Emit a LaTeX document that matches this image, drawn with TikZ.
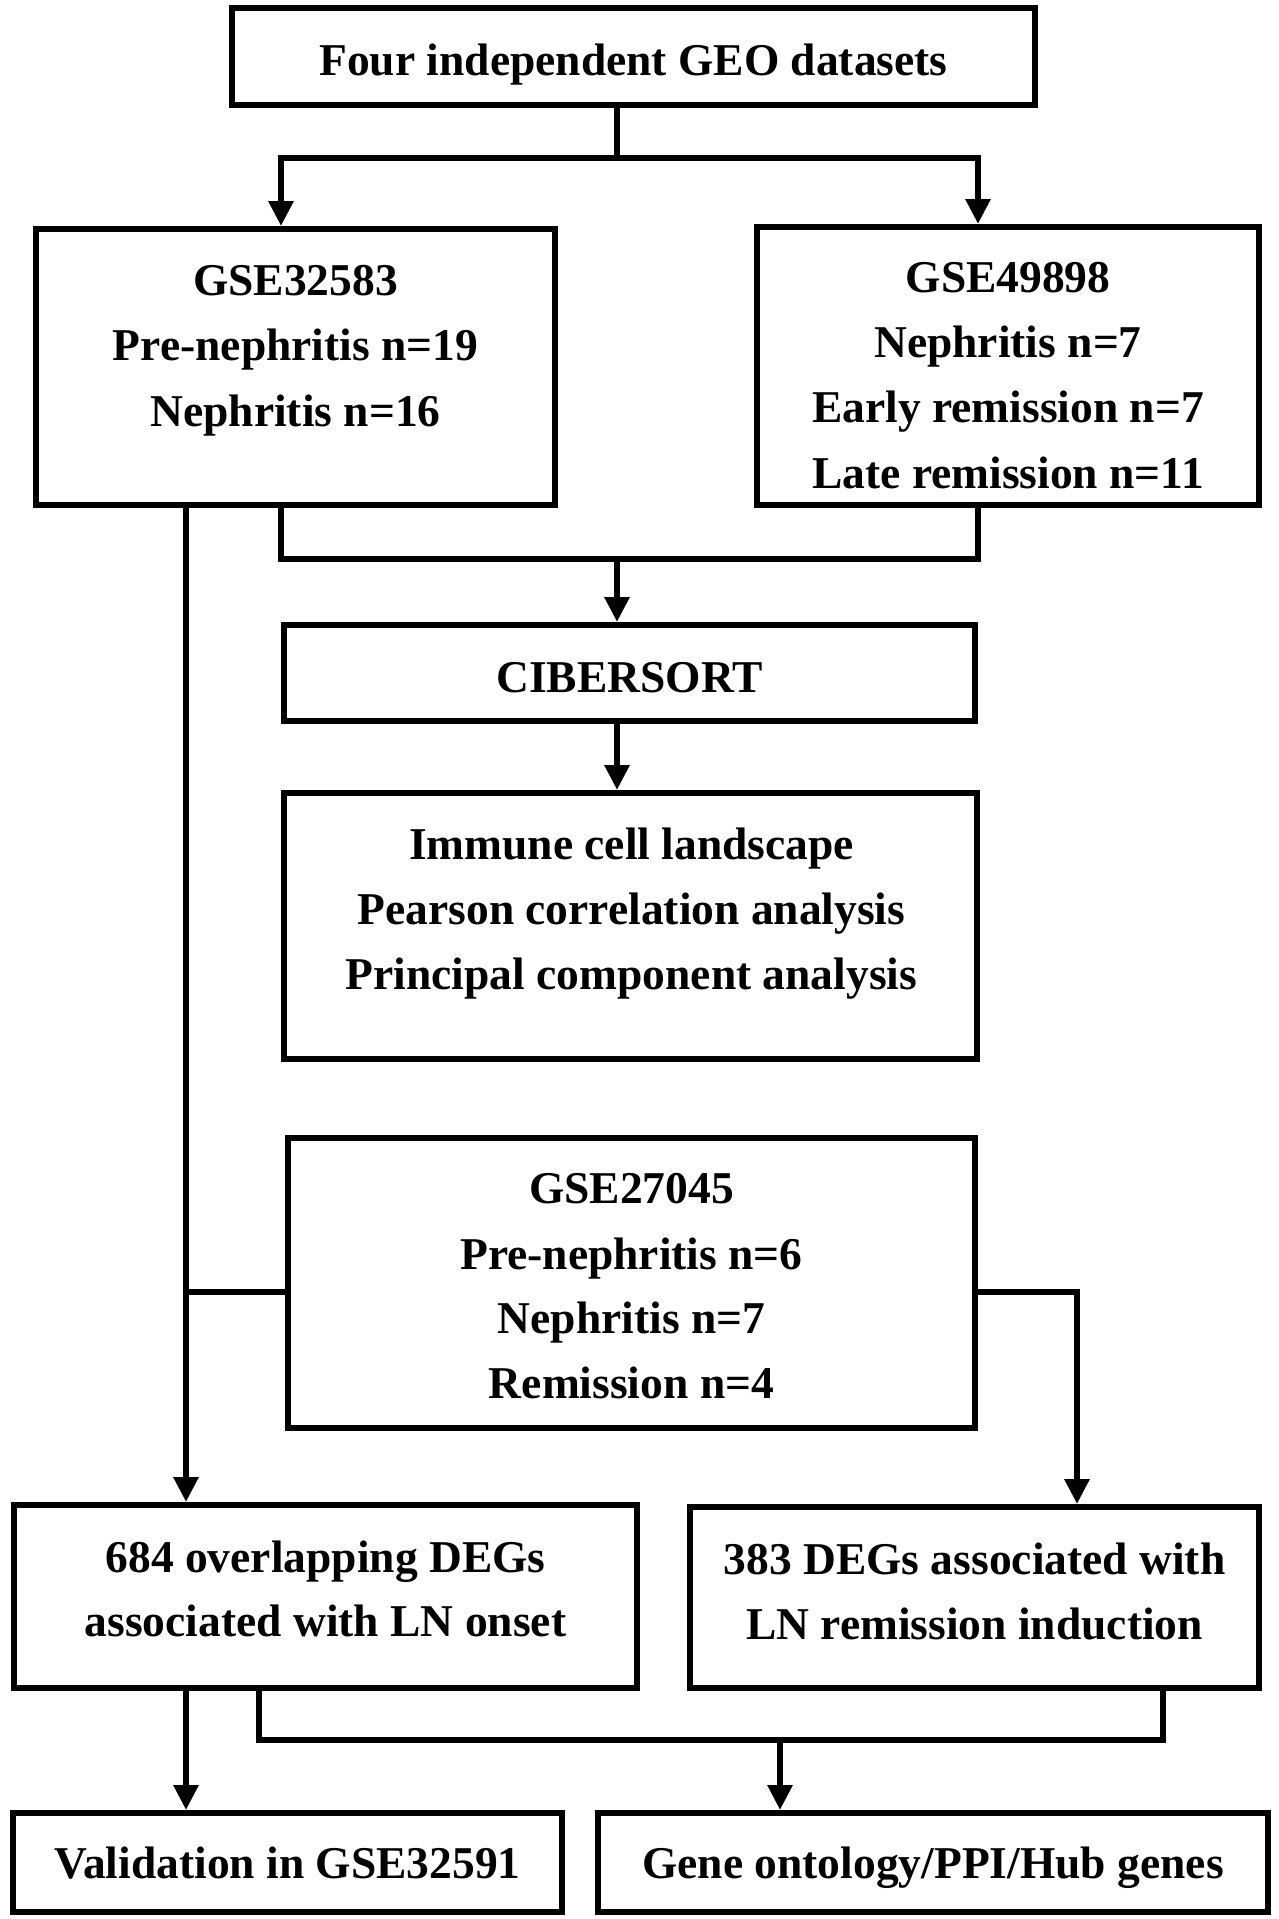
\documentclass[tikz,border=0pt]{standalone}
\usepackage{fontspec}
\setmainfont{Liberation Serif}
\usetikzlibrary{arrows.meta}
\begin{document}
\begin{tikzpicture}[x=1pt,y=-1pt,
  box/.style={draw=black, line width=6pt, rectangle, inner sep=0pt},
  txt/.style={anchor=base, inner sep=0pt, font=\fontsize{45.5}{54}\selectfont\bfseries},
  conn/.style={draw=black, line width=6pt, line join=miter},
  arr/.style={conn, -{Triangle[length=25pt,width=24pt]}}]
\useasboundingbox (0,0) rectangle (1278,1919);
% boxes
\node[box, minimum width=803pt, minimum height=96pt] (top) at (633.5,56.5) {};
\node[box, minimum width=519pt, minimum height=276pt] (gseA) at (295.5,367) {};
\node[box, minimum width=502pt, minimum height=278pt] (gseB) at (1008,366) {};
\node[box, minimum width=691pt, minimum height=96pt] (cib) at (629.5,673) {};
\node[box, minimum width=693pt, minimum height=266pt] (imm) at (630.5,926) {};
\node[box, minimum width=687pt, minimum height=290pt] (g27) at (631.5,1283) {};
\node[box, minimum width=623pt, minimum height=183pt] (d684) at (325.5,1596.5) {};
\node[box, minimum width=569pt, minimum height=181pt] (d383) at (974.5,1597.5) {};
\node[box, minimum width=549pt, minimum height=99pt] (val) at (287.5,1862.5) {};
\node[box, minimum width=670pt, minimum height=99pt] (gene) at (933,1862.5) {};
% texts
\node[txt] (t0) at (633.5,75) {Four independent GEO datasets};
\node[txt] (tA1) at (295.5,295) {GSE32583};
\node[txt] (tA2) at (295.5,360) {Pre-nephritis n=19};
\node[txt] (tA3) at (295.5,426) {Nephritis n=16};
\node[txt] (tB1) at (1008,292) {GSE49898};
\node[txt] (tB2) at (1008,357) {Nephritis n=7};
\node[txt] (tB3) at (1008,422) {Early remission n=7};
\node[txt] (tB4) at (1008,488) {Late remission n=11};
\node[txt] (tC1) at (629.5,692) {CIBERSORT};
\node[txt] (tI1) at (631.5,859) {Immune cell landscape};
\node[txt] (tI2) at (631.5,924) {Pearson correlation analysis};
\node[txt] (tI3) at (631.5,989) {Principal component analysis};
\node[txt] (tG1) at (631.5,1203) {GSE27045};
\node[txt] (tG2) at (631.5,1269) {Pre-nephritis n=6};
\node[txt] (tG3) at (631.5,1333) {Nephritis n=7};
\node[txt] (tG4) at (631.5,1398) {Remission n=4};
\node[txt] (tD1) at (325.5,1572) {684 overlapping DEGs};
\node[txt] (tD2) at (325.5,1636) {associated with LN onset};
\node[txt] (tE1) at (974.5,1574) {383 DEGs associated with};
\node[txt] (tE2) at (974.5,1639) {LN remission induction};
\node[txt] (tV1) at (287.5,1878) {Validation in GSE32591};
\node[txt] (tH1) at (933,1878) {Gene ontology/PPI/Hub genes};
% helper coordinates
\coordinate (j1) at (617,158);
\coordinate (j2) at (617,559);
\coordinate (j3) at (186,1292);
\coordinate (j4) at (780,1740);
\coordinate (aL) at (281,0);
\coordinate (aR) at (978,0);
\coordinate (xL) at (186,0);
\coordinate (xR) at (1077,0);
\coordinate (xM) at (259,0);
\coordinate (xN) at (1163,0);
% connectors
\draw[conn] (top.south -| j1) -- (j1);
\draw[arr] (j1) -| (gseA.north -| aL);
\draw[arr] (j1) -| (gseB.north -| aR);
\draw[conn] (gseA.south -| aL) |- (j2) -| (gseB.south -| aR);
\draw[arr] (j2) -- (cib.north -| j2);
\draw[arr] (cib.south -| j1) -- (imm.north -| j1);
\draw[arr] (gseA.south -| xL) -- (d684.north -| xL);
\draw[conn] (j3) -- (j3 -| g27.west);
\draw[arr] (j3 -| g27.east) -| (d383.north -| xR);
\draw[arr] (d684.south -| xL) -- (val.north -| xL);
\draw[conn] (d684.south -| xM) |- (j4) -| (d383.south -| xN);
\draw[arr, shorten <=2pt] (j4) -- (gene.north -| j4);
\end{tikzpicture}
\end{document}
